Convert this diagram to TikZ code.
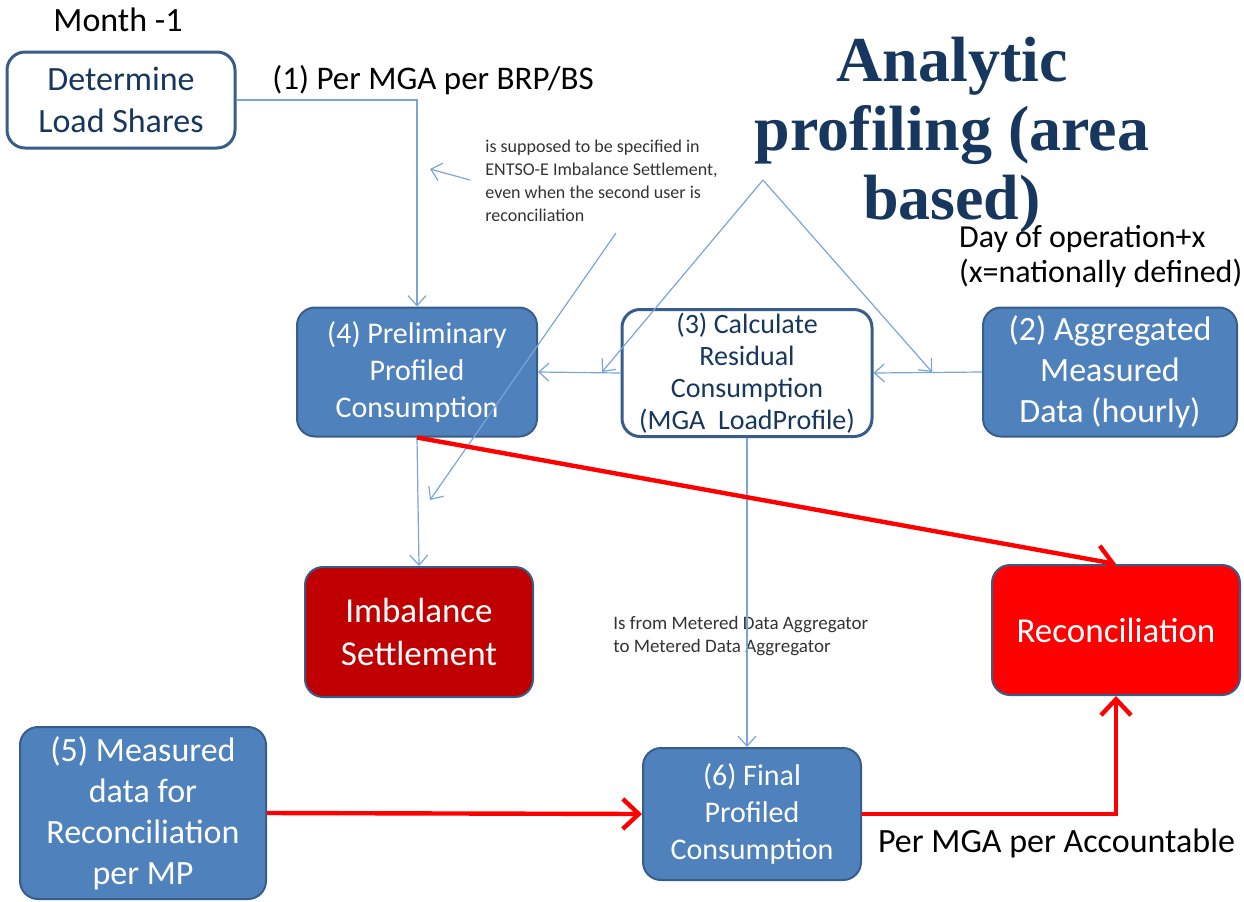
\documentclass[tikz,border=0pt]{standalone}
\usepackage{fontspec}
\setmainfont{Carlito}
\newfontfamily\titlefont{Liberation Serif}
\usetikzlibrary{arrows.meta}

\definecolor{boxfill}{HTML}{4F81BD}
\definecolor{boxline}{HTML}{385D8A}
\definecolor{flowline}{HTML}{7BA4D8}
\definecolor{navy}{HTML}{17375E}
\definecolor{darkred}{HTML}{C00000}

\tikzset{
  box/.style={rectangle, rounded corners=9pt, inner sep=0pt, align=center},
  bluebox/.style={box, draw=boxline, fill=boxfill, line width=1pt, text=white},
  whitebox/.style={box, draw=boxline, fill=white, line width=1.5pt, text=navy},
  redbox/.style={box, draw=boxline, fill=#1, line width=1pt, text=white,
    font=\fontsize{17.5pt}{21.5pt}\selectfont},
  flow/.style={draw=flowline, line width=0.6pt, -{Straight Barb[length=5pt,width=9pt]}},
  redflow/.style={draw=red, line width=2.2pt, -{Straight Barb[length=8pt,width=15pt]}},
  label/.style={font=\fontsize{17pt}{17.5pt}\selectfont, align=left},
  note/.style={font=\fontsize{9pt}{11.5pt}\selectfont, text=black!80, align=left, inner sep=0pt}
}

\begin{document}
\begin{tikzpicture}[x=0.5pt, y=-0.5pt]
\useasboundingbox (0,0) rectangle (1244,901);

% Nodes
\node (load) [whitebox, minimum width=114pt, minimum height=48pt,
    font=\fontsize{17pt}{21pt}\selectfont] at (121,100) {Determine\\Load Shares};
\node (prelim) [bluebox, minimum width=120pt, minimum height=64.5pt,
    font=\fontsize{15pt}{18.5pt}\selectfont] at (417,372) {(4) Preliminary\\Profiled\\Consumption};
\node (resid) [whitebox, minimum width=125pt, minimum height=63.5pt,
    font=\fontsize{14pt}{16pt}\selectfont] at (747,373) {(3) Calculate\\Residual\\Consumption\\(MGA\ \ LoadProfile)};
\node (aggr) [bluebox, minimum width=127pt, minimum height=64.5pt,
    font=\fontsize{17pt}{20.5pt}\selectfont] at (1110,372) {(2) Aggregated\\Measured\\Data (hourly)};
\node (imbal) [redbox=darkred, minimum width=114pt, minimum height=65pt] at (419,632) {Imbalance\\Settlement};
\node (recon) [redbox=red, minimum width=124pt, minimum height=65pt] at (1116,630) {Reconciliation};
\node (meas) [bluebox, minimum width=123pt, minimum height=86pt,
    font=\fontsize{17pt}{20.5pt}\selectfont] at (143,813) {(5) Measured\\data for\\Reconciliation\\per MP};
\node (final) [bluebox, minimum width=109pt, minimum height=66pt,
    font=\fontsize{15pt}{18.5pt}\selectfont] at (752,814) {(6) Final\\Profiled\\Consumption};

% Labels
\node (month) [label] at (118,20) {Month -1};
\node (perbrp) [label, font=\fontsize{16.5pt}{17pt}\selectfont] at (433,80) {(1) Per MGA per BRP/BS};
\node (dayop) [label, font=\fontsize{16pt}{17.5pt}\selectfont, anchor=west] at (952,257)
    {Day of operation+x\\(x=nationally defined)};
\node (peracc) [label, anchor=west] at (871,843) {Per MGA per Accountable};
\node (title) [align=center, text=navy, font=\titlefont\bfseries\fontsize{32pt}{34.5pt}\selectfont]
    at (952,135) {Analytic\\profiling (area\\based)};
\node (specnote) [note, anchor=west] at (485,181)
    {is supposed to be specified in\\ENTSO-E Imbalance Settlement,\\even when the second user is\\reconciliation};
\node (mdanote) [note, font=\fontsize{9.5pt}{11.5pt}\selectfont, anchor=west] at (613,636)
    {Is from Metered Data Aggregator\\to Metered Data Aggregator};

% Free ends of the note arrows
\coordinate (apex) at (763,180);
\coordinate (tipL) at (602,372);
\coordinate (tipR) at (932,372);
\coordinate (noteTail) at (470,180);
\coordinate (noteTip) at (430,169);
\coordinate (slashTop) at (616,233);
\coordinate (slashTip) at (430,500);

% Blue arrows
\draw[flow] (load.east) -| (prelim.north);
\draw[flow] (resid.west) -- (prelim.east);
\draw[flow] (aggr.west) -- (resid.east);
\draw[flow] (prelim.south) -- (imbal.north);
\draw[flow] (resid.south) -- (resid.south |- final.north);
\draw[flow] (apex) -- (tipL);
\draw[flow] (apex) -- (tipR);
\draw[flow] (noteTail) -- (noteTip);
\draw[flow] (slashTop) -- (slashTip);

% Red arrows
\draw[redflow] (prelim.south) -- (recon.north);
\draw[redflow] (meas.east) -- (final.west);
\draw[redflow] (final.east) -| (recon.south);

\end{tikzpicture}
\end{document}
